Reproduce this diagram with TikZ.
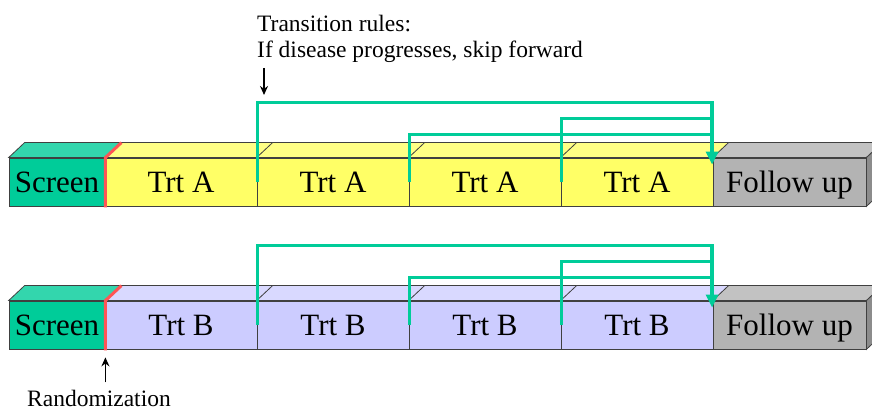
\documentclass[tikz,border=0pt]{standalone}
\usepackage{fontspec}
\setmainfont{Liberation Serif}
\usetikzlibrary{arrows.meta,calc}

\definecolor{edge}{HTML}{404040}
\definecolor{scrn}{HTML}{00CC99}
\definecolor{scrntop}{HTML}{33D6AD}
\definecolor{yel}{HTML}{FFFF66}
\definecolor{yeltop}{HTML}{FFFF85}
\definecolor{blu}{HTML}{CCCCFF}
\definecolor{blutop}{HTML}{D9D9FF}
\definecolor{fup}{HTML}{B3B3B3}
\definecolor{fuptop}{HTML}{C2C2C2}
\definecolor{fupside}{HTML}{8C8C8C}
\definecolor{conn}{HTML}{00CC99}
\definecolor{rand}{HTML}{FF5555}

\tikzset{
  face/.style={draw=edge, line width=0.8pt, minimum height=48pt, inner sep=0pt,
    font=\fontsize{31}{37}\selectfont, text height=21pt, text depth=0pt},
  trt/.style={face, minimum width=152pt},
  topface/.style={draw=edge, line width=0.8pt},
  jump/.style={draw=conn, line width=3.8pt},
  jumptip/.style={jump, -{Triangle[length=13pt,width=12pt]}},
  randline/.style={draw=rand, line width=3pt},
  note/.style={font=\fontsize{23.5}{28}\selectfont, inner sep=0pt},
  pointer/.style={line width=1.8pt, -{Stealth[length=9pt,width=8pt]}}
}

\begin{document}
\begin{tikzpicture}[x=1pt,y=-1pt]
\useasboundingbox (0,0) rectangle (872,411);
\clip (0,0) rectangle (872,411);

% front faces, arm A
\node[face, fill=scrn, minimum width=96pt] (s1) at (57,182) {Screen};
\node[trt, fill=yel] (a1) at (181,182) {Trt A};
\node[trt, fill=yel] (a2) at (333,182) {Trt A};
\node[trt, fill=yel] (a3) at (485,182) {Trt A};
\node[trt, fill=yel] (a4) at (637,182) {Trt A};
\node[face, fill=fup, minimum width=153pt] (f1) at (789.5,182) {Follow up};

% front faces, arm B
\node[face, fill=scrn, minimum width=96pt] (s2) at (57,325) {Screen};
\node[trt, fill=blu] (b1) at (181,325) {Trt B};
\node[trt, fill=blu] (b2) at (333,325) {Trt B};
\node[trt, fill=blu] (b3) at (485,325) {Trt B};
\node[trt, fill=blu] (b4) at (637,325) {Trt B};
\node[face, fill=fup, minimum width=153pt] (f2) at (789.5,325) {Follow up};

% top faces
\foreach \n/\c in {s1/scrntop,a1/yeltop,a2/yeltop,a3/yeltop,a4/yeltop,f1/fuptop,
                   s2/scrntop,b1/blutop,b2/blutop,b3/blutop,b4/blutop,f2/fuptop}
  \filldraw[topface, fill=\c] (\n.north west) -- ++(16,-15)
    -- ($(\n.north east)+(16,-15)$) -- (\n.north east) -- cycle;

% side faces of the follow-up blocks
\foreach \n in {f1,f2}
  \filldraw[topface, fill=fupside] (\n.north east) -- ++(16,-15)
    -- ($(\n.south east)+(16,-15)$) -- (\n.south east) -- cycle;

% randomization boundary
\draw[randline] ($(s1.south east)+(0,1)$) -- (s1.north east) -- ++(16,-15);
\draw[randline] ($(s2.south east)+(0,1)$) -- (s2.north east) -- ++(16,-15);

% transition rules, arm A
\coordinate (tipA) at ($(f1.north west)+(-0.5,7)$);
\draw[jump] (a2.east) |- ($(tipA)+(0,-30)$);
\draw[jump] (a3.east) |- ($(tipA)+(0,-46)$);
\draw[jumptip] (a1.east) |- ($(tipA)+(0,-62)$) -- (tipA);

% transition rules, arm B
\coordinate (tipB) at ($(f2.north west)+(-0.5,7)$);
\draw[jump] (b2.east) |- ($(tipB)+(0,-30)$);
\draw[jump] (b3.east) |- ($(tipB)+(0,-46)$);
\draw[jumptip] (b1.east) |- ($(tipB)+(0,-62)$) -- (tipB);

% annotations
\node[note, anchor=base west] (rules1) at (257,32) {Transition rules:};
\node[note, anchor=base west] (rules2) at (257,58) {If disease progresses, skip forward};
\coordinate (rulesTo) at (264,95);
\draw[pointer] ($(rules2.base west)+(7,10)$) -- (rulesTo);

\node[note, anchor=base west] (randtxt) at (27,406.5) {Randomization};
\draw[pointer] ($(s2.south east)+(0,33)$) -- ($(s2.south east)+(0,8)$);
\end{tikzpicture}
\end{document}
